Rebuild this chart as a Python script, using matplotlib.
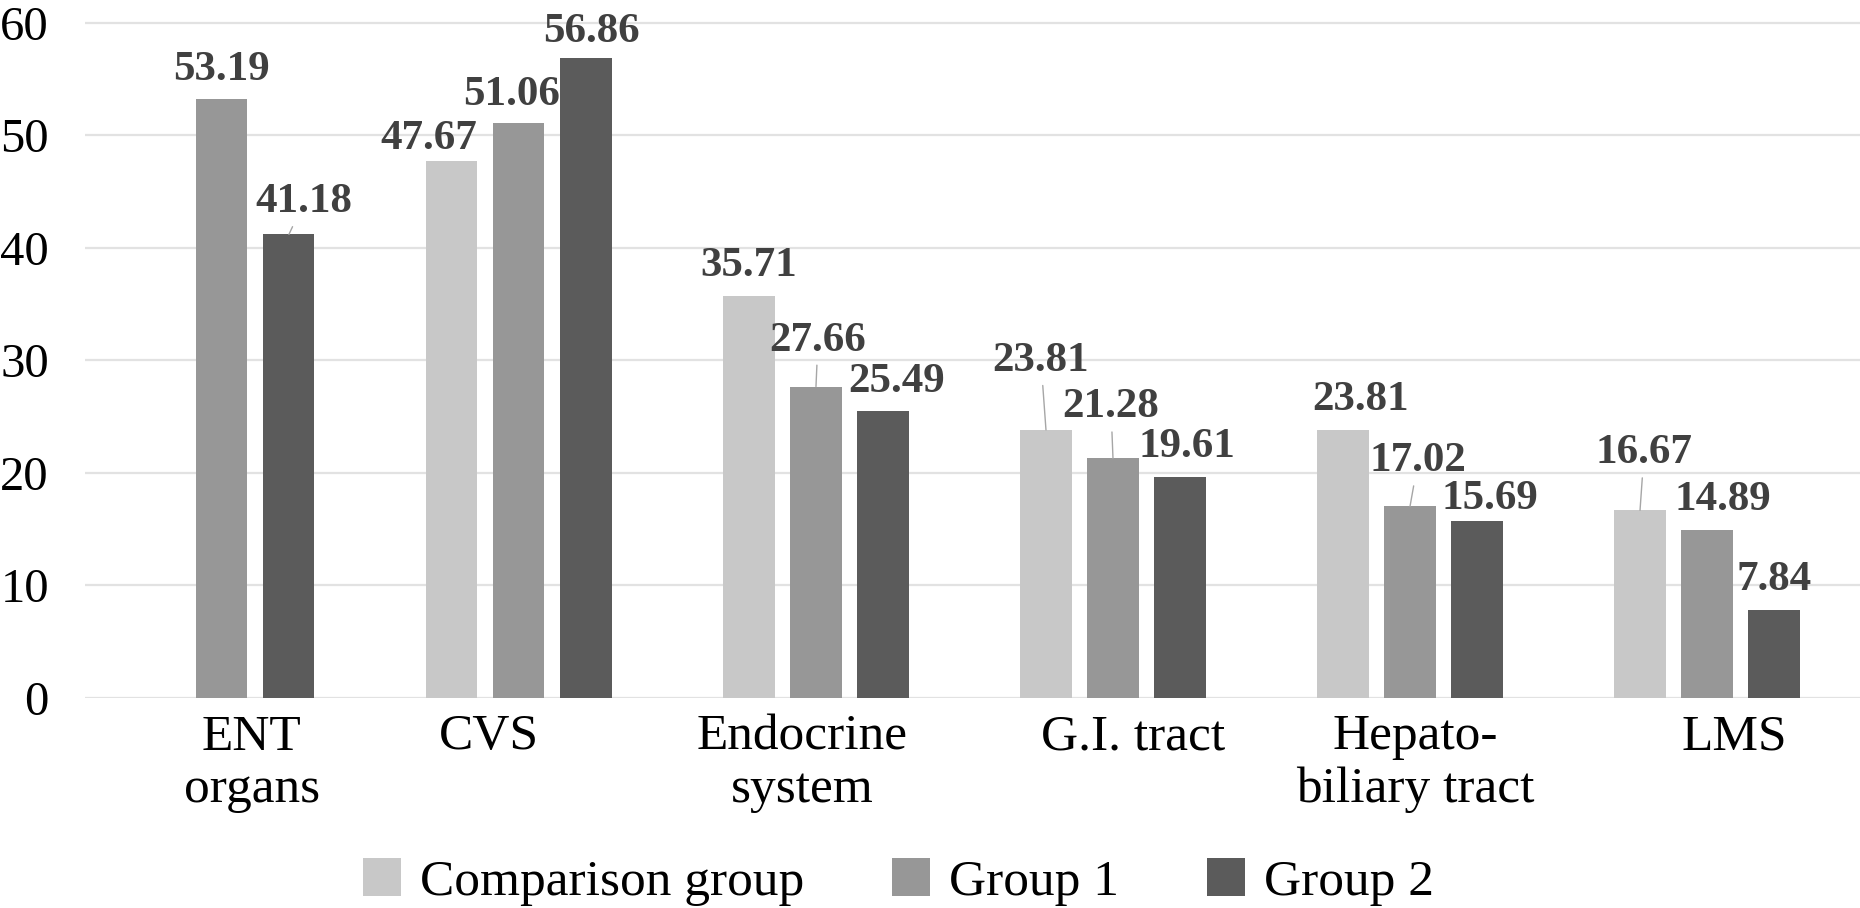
import numpy as np
import matplotlib
matplotlib.use("Agg")
import matplotlib.pyplot as plt
import matplotlib.transforms as mtransforms

categories = ["ENT\norgans", "CVS", "Endocrine\nsystem", "G.I. tract",
              "Hepato-\nbiliary tract", "LMS"]
comparison = [np.nan, 47.67, 35.71, 23.81, 23.81, 16.67]
group1 = [53.19, 51.06, 27.66, 21.28, 17.02, 14.89]
group2 = [41.18, 56.86, 25.49, 19.61, 15.69, 7.84]
series_names = ["Comparison group", "Group 1", "Group 2"]
yticks = [0, 10, 20, 30, 40, 50, 60]

colors = ["#c8c8c8", "#979797", "#5b5b5b"]

# label offsets in pixels (dx, dy above bar top), leader line flag
label_pos = [
    [None, (-23, 22, False), (0, 30, False), (-5, 69, True), (18, 30, False), (4, 57, True)],
    [(0, 29, False), (-7, 28, False), (2, 46, True), (-2, 51, True), (8, 45, True), (16, 30, False)],
    [(15, 32, True), (5, 26, False), (14, 29, False), (7, 30, False), (13, 22, False), (0, 30, False)],
]
# small horizontal shifts of the category labels (pixels)
cat_dx = [30, -30, -14, 20, 5, 27]

plt.rcParams['font.family'] = ['Liberation Serif', 'DejaVu Serif']

fig = plt.figure(figsize=(18.6, 9.08), dpi=100)
ax = fig.add_axes([85 / 1860, 1 - 698 / 908, 1 - 85 / 1860, 698 / 908])

x = np.arange(len(categories))
width = 0.172
step = 0.2256
bars = []
for i, (vals, name) in enumerate(zip([comparison, group1, group2], series_names)):
    b = ax.bar(x + (i - 1) * step, vals, width, color=colors[i], label=name, zorder=3)
    bars.append(b)
    for j, v in enumerate(vals):
        if np.isnan(v) or label_pos[i][j] is None:
            continue
        dx, dy, leader = label_pos[i][j]
        kw = {}
        if leader:
            kw['arrowprops'] = dict(arrowstyle='-', color='#a6a6a6', lw=1,
                                    shrinkA=2, shrinkB=0)
        ax.annotate(f"{v:.2f}", xy=(x[j] + (i - 1) * step, v),
                    xytext=(dx, dy), textcoords='offset pixels',
                    ha='center', va='center', fontsize=31, fontweight='bold',
                    color='#404040', zorder=4, **kw)

ax.set_xlim(-0.461, 5.515)
ax.set_ylim(0, 62)
ax.set_yticks(yticks)
ax.set_xticks(x, [])

# category labels as text, shifted a little like in the original
blend = mtransforms.blended_transform_factory(ax.transData, ax.transAxes)
for xi, cat, d in zip(x, categories, cat_dx):
    tr = blend + mtransforms.ScaledTranslation(d / 100, -16 / 100, fig.dpi_scale_trans)
    ax.text(xi, 0, cat, transform=tr, ha='center', va='top', fontsize=37,
            linespacing=1.16, multialignment='center')

ax.tick_params(axis='x', length=0)
ax.tick_params(axis='y', length=0, pad=26, labelsize=35)
for lab in ax.get_yticklabels():
    lab.set_y(lab.get_position()[1])
ax.grid(axis='y', color='#e2e2e2', linewidth=1.6, zorder=0)
ax.set_axisbelow(True)
for s in ax.spines.values():
    s.set_visible(False)

fig.legend(handles=bars, labels=series_names, loc='center', ncol=3,
           bbox_to_anchor=(0.483, 1 - 882 / 908), frameon=False, fontsize=37,
           handlelength=0.75, handleheight=0.75, handletextpad=0.37,
           columnspacing=1.7, borderpad=0)

fig.savefig("out.png", dpi=100)
